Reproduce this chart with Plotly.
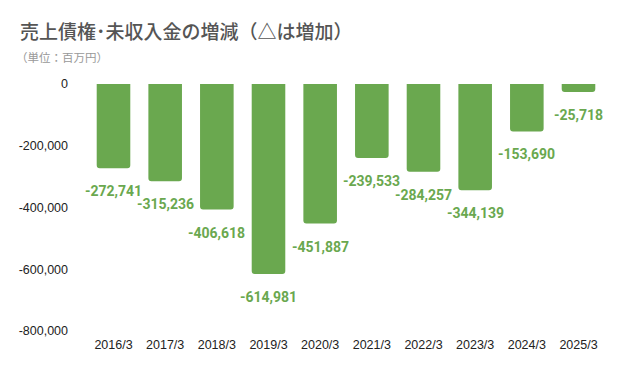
import plotly.graph_objects as go

categories = ["2016/3", "2017/3", "2018/3", "2019/3", "2020/3",
              "2021/3", "2022/3", "2023/3", "2024/3", "2025/3"]
values = [-272741, -315236, -406618, -614981, -451887,
          -239533, -284257, -344139, -153690, -25718]
y_ticks = [0, -200000, -400000, -600000, -800000]

green = "#6aa84f"
OFF = 8  # browser default body margin offset

fig = go.Figure(go.Bar(
    x=categories, y=values,
    marker=dict(color=green, line=dict(width=0)),
    hoverinfo="x+y",
))

for c, v in zip(categories, values):
    fig.add_annotation(x=c, y=v, text=f"{v:,}", showarrow=False,
                       yanchor="middle", yshift=-23,
                       font=dict(family="Roboto", size=14, color=green, weight="bold"))

W, H = 633, 371
pl, pr, pt, pb = 83 - OFF, 605 - OFF, 84 - OFF, 331 - OFF

fig.update_layout(
    width=W, height=H,
    margin=dict(l=pl, r=W - pr, t=pt, b=H - pb),
    paper_bgcolor="white", plot_bgcolor="white",
    bargap=0.35,
    barcornerradius=3,
    showlegend=False,
    title=dict(text="売上債権･未収入金の増減（△は増加）",
               font=dict(family="Noto Sans CJK JP", size=19, color="#555555", weight=500),
               x=(20 - OFF) / W, xanchor="left", xref="container",
               y=1 - (32 - OFF) / H, yanchor="middle", yref="container"),
    font=dict(family="Liberation Sans", color="#222222", size=12.5),
)
fig.add_annotation(text="（単位：百万円）", xref="paper", yref="paper",
                   x=(14 - 83) / (pr - pl), xanchor="left",
                   y=1 + (84 - 57) / (pb - pt), yanchor="middle",
                   showarrow=False,
                   font=dict(family="Noto Sans CJK JP", size=11.5, color="#999999"))
fig.update_xaxes(showgrid=False, showline=False, ticks="", ticklabelstandoff=4,
                 tickfont=dict(family="Liberation Sans", size=12.5, color="#222222"))
fig.update_yaxes(range=[-800000, 0], tickvals=y_ticks,
                 ticktext=[f"{v:,}" for v in y_ticks],
                 showgrid=False, zeroline=False, showline=False,
                 ticklabelstandoff=14,
                 tickfont=dict(family="Liberation Sans", size=12.5, color="#222222"))

fig.write_html("out.html")
